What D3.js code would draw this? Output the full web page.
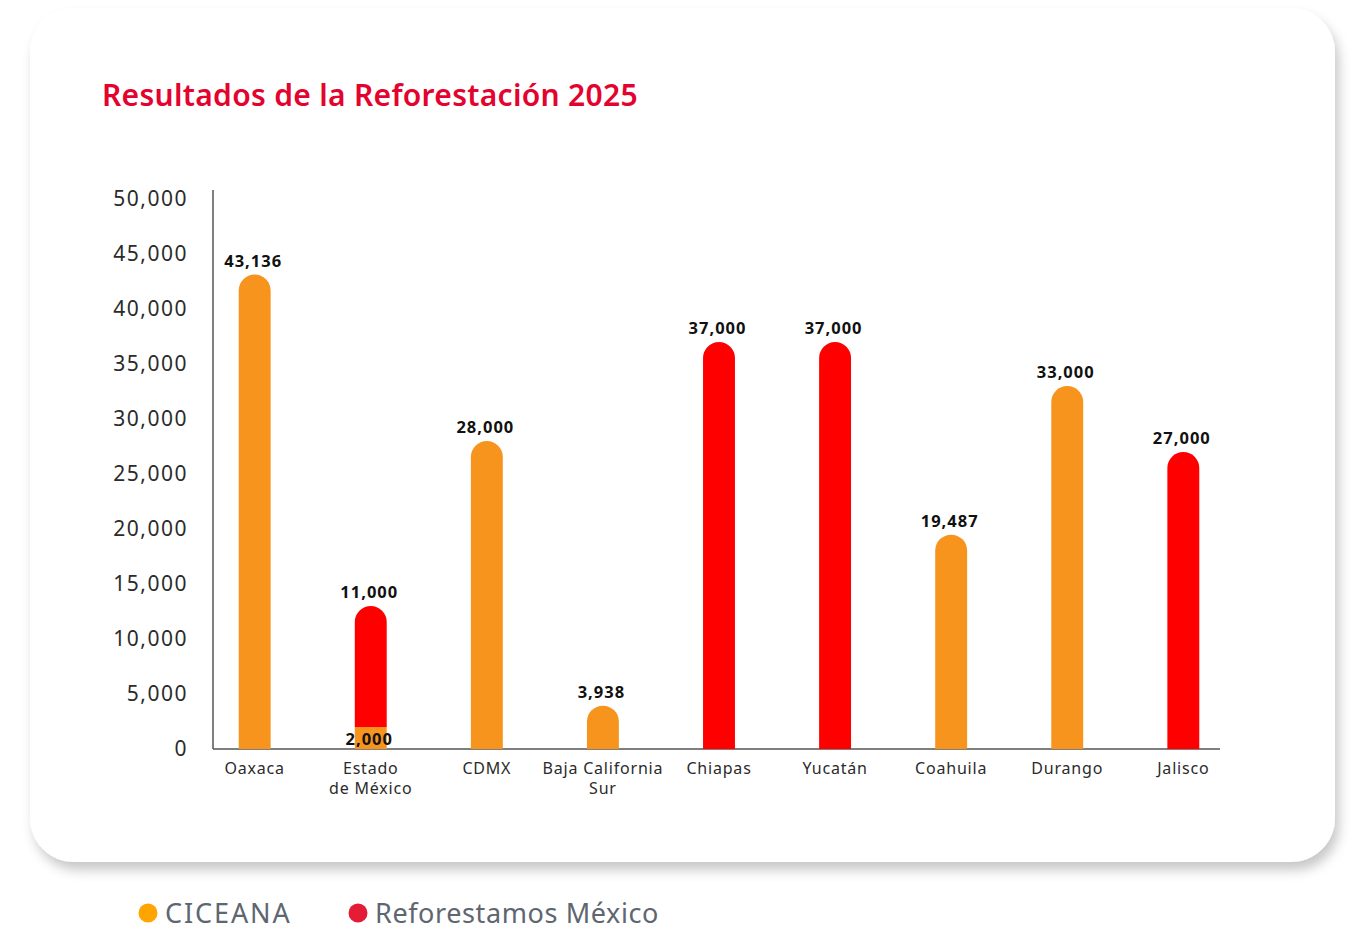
<!DOCTYPE html>
<html>
<head>
<meta charset="utf-8">
<script src="https://cdn.jsdelivr.net/npm/d3@7"></script>
<style>
  html, body { margin: 0; padding: 0; background: #ffffff; }
  svg { display: block; }
</style>
</head>
<body>
<svg id="chart" width="1356" height="932"></svg>
<script>
// Reforestation results 2025 by state, split by organisation
const categories = ["Oaxaca", "Estado de México", "CDMX", "Baja California Sur", "Chiapas", "Yucatán", "Coahuila", "Durango", "Jalisco"];
const categoryLines = [["Oaxaca"], ["Estado", "de México"], ["CDMX"], ["Baja California", "Sur"], ["Chiapas"], ["Yucatán"], ["Coahuila"], ["Durango"], ["Jalisco"]];
const ciceana = [43136, 2000, 28000, 3938, 0, 0, 19487, 33000, 0];
const reforestamos = [0, 11000, 0, 0, 37000, 37000, 0, 0, 27000];
const yTicks = [0, 5000, 10000, 15000, 20000, 25000, 30000, 35000, 40000, 45000, 50000];
const seriesNames = ["CICEANA", "Reforestamos México"];

const FONT = "'Noto Sans', sans-serif";
const barColors = ["#F7941D", "#FF0000"];
const legendColors = ["#FFA400", "#E31D36"];
const legendSpacing = [1.9, 0.6];

const svg = d3.select("#chart");

// card with soft shadow
const defs = svg.append("defs");
const f = defs.append("filter").attr("id", "shadow")
  .attr("x", "-5%").attr("y", "-5%").attr("width", "112%").attr("height", "115%");
f.append("feDropShadow").attr("dx", 4).attr("dy", 8).attr("stdDeviation", 6)
  .attr("flood-color", "#000").attr("flood-opacity", 0.22);

svg.append("rect")
  .attr("x", 30).attr("y", 8).attr("width", 1305).attr("height", 854)
  .attr("rx", 44).attr("ry", 44)
  .attr("fill", "#ffffff")
  .attr("filter", "url(#shadow)");

// title
svg.append("text")
  .attr("x", 102).attr("y", 106)
  .attr("fill", "#E4032E")
  .attr("font-family", FONT)
  .attr("font-weight", 600)
  .attr("font-size", 30)
  .attr("letter-spacing", 0.3)
  .text("Resultados de la Reforestación 2025");

// scales
const x = d3.scaleBand().domain(categories).range([215.5, 1222.5]).paddingInner(0.725).paddingOuter(0.2);
const y = d3.scaleLinear().domain([0, 50000]).range([749, 199]);

// y axis (labels only + vertical line)
const yAxis = svg.append("g").attr("transform", "translate(213,0)")
  .call(d3.axisLeft(y).tickValues(yTicks).tickFormat(d3.format(",")).tickSize(0).tickPadding(25));
yAxis.select(".domain").remove();
yAxis.selectAll("text")
  .attr("font-family", FONT).attr("font-size", 21).attr("fill", "#2b2b2b")
  .attr("letter-spacing", 1.5);

svg.append("line")
  .attr("x1", 213).attr("x2", 213).attr("y1", 190).attr("y2", y(0))
  .attr("stroke", "#555").attr("stroke-width", 1.5);

// x axis baseline
const xAxis = svg.append("g").attr("transform", `translate(0,${y(0)})`)
  .call(d3.axisBottom(x).tickSize(0).tickFormat(""));
xAxis.select(".domain").remove();
svg.append("line")
  .attr("x1", 213).attr("x2", 1220).attr("y1", y(0)).attr("y2", y(0))
  .attr("stroke", "#555").attr("stroke-width", 1.5);

// category labels
categories.forEach((c, i) => {
  const cx = x(c) + x.bandwidth() / 2;
  const t = svg.append("text")
    .attr("x", cx)
    .attr("y", 774)
    .attr("text-anchor", "middle")
    .attr("font-family", FONT).attr("font-size", 16).attr("fill", "#2b2b2b")
    .attr("letter-spacing", 0.8);
  categoryLines[i].forEach((line, k) => {
    t.append("tspan").attr("x", cx).attr("dy", k === 0 ? 0 : 20).text(line);
  });
});

// bar path with rounded top
function barPath(x0, w, yTop, yBottom, rounded) {
  const r = w / 2;
  if (!rounded || yBottom - yTop < r) {
    return `M${x0},${yBottom}V${yTop}H${x0 + w}V${yBottom}Z`;
  }
  return `M${x0},${yBottom}V${yTop + r}A${r},${r} 0 0 1 ${x0 + w},${yTop + r}V${yBottom}Z`;
}

const stacked = categories.map((c, i) => ({
  cat: c,
  segs: [
    { s: 0, v0: 0, v1: ciceana[i], v: ciceana[i] },
    { s: 1, v0: ciceana[i], v1: ciceana[i] + reforestamos[i], v: reforestamos[i] }
  ].filter(d => d.v > 0)
}));

const bars = svg.append("g");
stacked.forEach(d => {
  d.segs.forEach((seg, k) => {
    const isTop = k === d.segs.length - 1;
    bars.append("path")
      .attr("d", barPath(x(d.cat), x.bandwidth(), y(seg.v1), y(seg.v0), isTop))
      .attr("fill", barColors[seg.s]);
  });
});

// value labels
const labels = svg.append("g")
  .attr("font-family", FONT).attr("font-weight", 700).attr("font-size", 16.5)
  .attr("fill", "#111").attr("text-anchor", "middle").attr("letter-spacing", 1);
stacked.forEach(d => {
  const cx = x(d.cat) + x.bandwidth() / 2;
  d.segs.forEach((seg, k) => {
    const isTop = k === d.segs.length - 1;
    const yy = isTop ? y(seg.v1) - 8 : y(seg.v0) - 4;
    labels.append("text").attr("x", cx - 1.5).attr("y", yy).text(d3.format(",")(seg.v));
  });
});

// legend
const legend = svg.append("g");
const legendX = [148, 358];
seriesNames.forEach((name, i) => {
  legend.append("circle").attr("cx", legendX[i]).attr("cy", 913).attr("r", 9.5).attr("fill", legendColors[i]);
  legend.append("text")
    .attr("x", legendX[i] + 17).attr("y", 923)
    .attr("font-family", FONT).attr("font-size", 27).attr("fill", "#5E6670")
    .attr("letter-spacing", legendSpacing[i])
    .text(name);
});
</script>
</body>
</html>
